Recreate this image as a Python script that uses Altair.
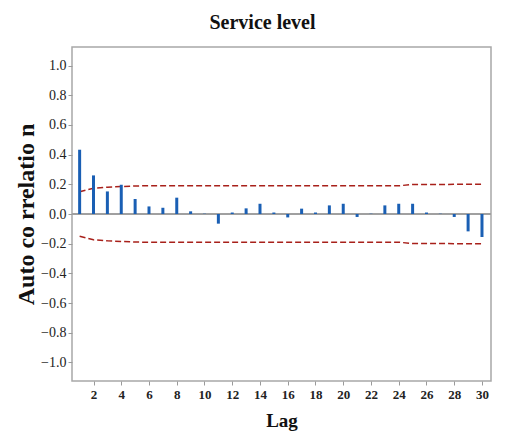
import altair as alt
import pandas as pd

lags = list(range(1, 31))
acf = [0.433, 0.26, 0.152, 0.197, 0.101, 0.051, 0.042, 0.11, 0.018, 0.002,
       -0.065, 0.01, 0.038, 0.069, 0.01, -0.023, 0.036, 0.01, 0.058, 0.069,
       -0.02, 0.002, 0.058, 0.069, 0.069, 0.01, 0.002, -0.02, -0.117, -0.155]
limit = [0.15, 0.174, 0.181, 0.185, 0.189, 0.19, 0.19, 0.19, 0.19, 0.19,
         0.19, 0.19, 0.19, 0.19, 0.19, 0.19, 0.19, 0.19, 0.19, 0.19,
         0.19, 0.19, 0.19, 0.19, 0.199, 0.199, 0.199, 0.2, 0.2, 0.2]
y_ticks = [-1.0, -0.8, -0.6, -0.4, -0.2, 0.0, 0.2, 0.4, 0.6, 0.8, 1.0]
x_ticks = list(range(2, 31, 2))

df = pd.DataFrame({"lag": lags, "acf": acf, "upper": limit,
                   "lower": [-v for v in limit], "zero": [0.0] * len(lags)})

serif = "Liberation Serif"

xscale = alt.Scale(domain=[0.45, 30.65], nice=False, zero=False)
yscale = alt.Scale(domain=[-1.125, 1.125], nice=False)

xaxis = alt.Axis(values=x_ticks, title="Lag", titlePadding=10,
                 labelFont=serif, labelFontSize=13, labelFontWeight="bold")
yaxis = alt.Axis(values=y_ticks, format=".1f", title="Auto co rrelatio n",
                 labelFont=serif, labelFontSize=14,
                 titleX=-46, titleY=167, titleAngle=270,
                 titleAlign="center", titleBaseline="middle")

base = alt.Chart(df)

zero_line = base.mark_rule(color="#a0a0a0", strokeWidth=1.5).encode(
    y=alt.Y("zero:Q", scale=yscale, axis=yaxis),
    x=alt.value(0), x2=alt.value(419))

bars = base.mark_rule(color="#1a5fb4", strokeWidth=3).encode(
    x=alt.X("lag:Q", scale=xscale, axis=xaxis),
    y=alt.Y("zero:Q", scale=yscale, axis=yaxis),
    y2="acf:Q")

upper = base.mark_line(color="#a8201a", strokeDash=[6, 3], strokeWidth=1.5).encode(
    x=alt.X("lag:Q", scale=xscale, axis=xaxis),
    y=alt.Y("upper:Q", scale=yscale, axis=yaxis))
lower = base.mark_line(color="#a8201a", strokeDash=[6, 3], strokeWidth=1.5).encode(
    x=alt.X("lag:Q", scale=xscale, axis=xaxis),
    y=alt.Y("lower:Q", scale=yscale, axis=yaxis))

chart = alt.layer(zero_line, upper, lower, bars).properties(
    width=419, height=334,
    background="white",
    autosize=alt.AutoSizeParams(type="none"),
    padding={"left": 64, "top": 39, "right": 10, "bottom": 57},
    title=alt.TitleParams("Service level", font=serif, fontSize=20,
                          fontWeight="bold", color="#111111",
                          anchor="middle", offset=14, dx=-19),
).configure_view(
    stroke="#a8a8a8", strokeWidth=1.5
).configure_axis(
    grid=False, domain=False, tickColor="#9a9a9a", tickSize=4,
    labelFont=serif, labelColor="#222222", labelPadding=2,
    titleFont=serif, titleFontWeight="bold", titleColor="#111111"
).configure_axisY(
    labelFontSize=14, titleFontSize=24
).configure_axisX(
    labelFontSize=13, labelFontWeight="bold", labelPadding=3, titleFontSize=19
)

chart.save("out.html", embed_options={"renderer": "svg", "actions": False})
